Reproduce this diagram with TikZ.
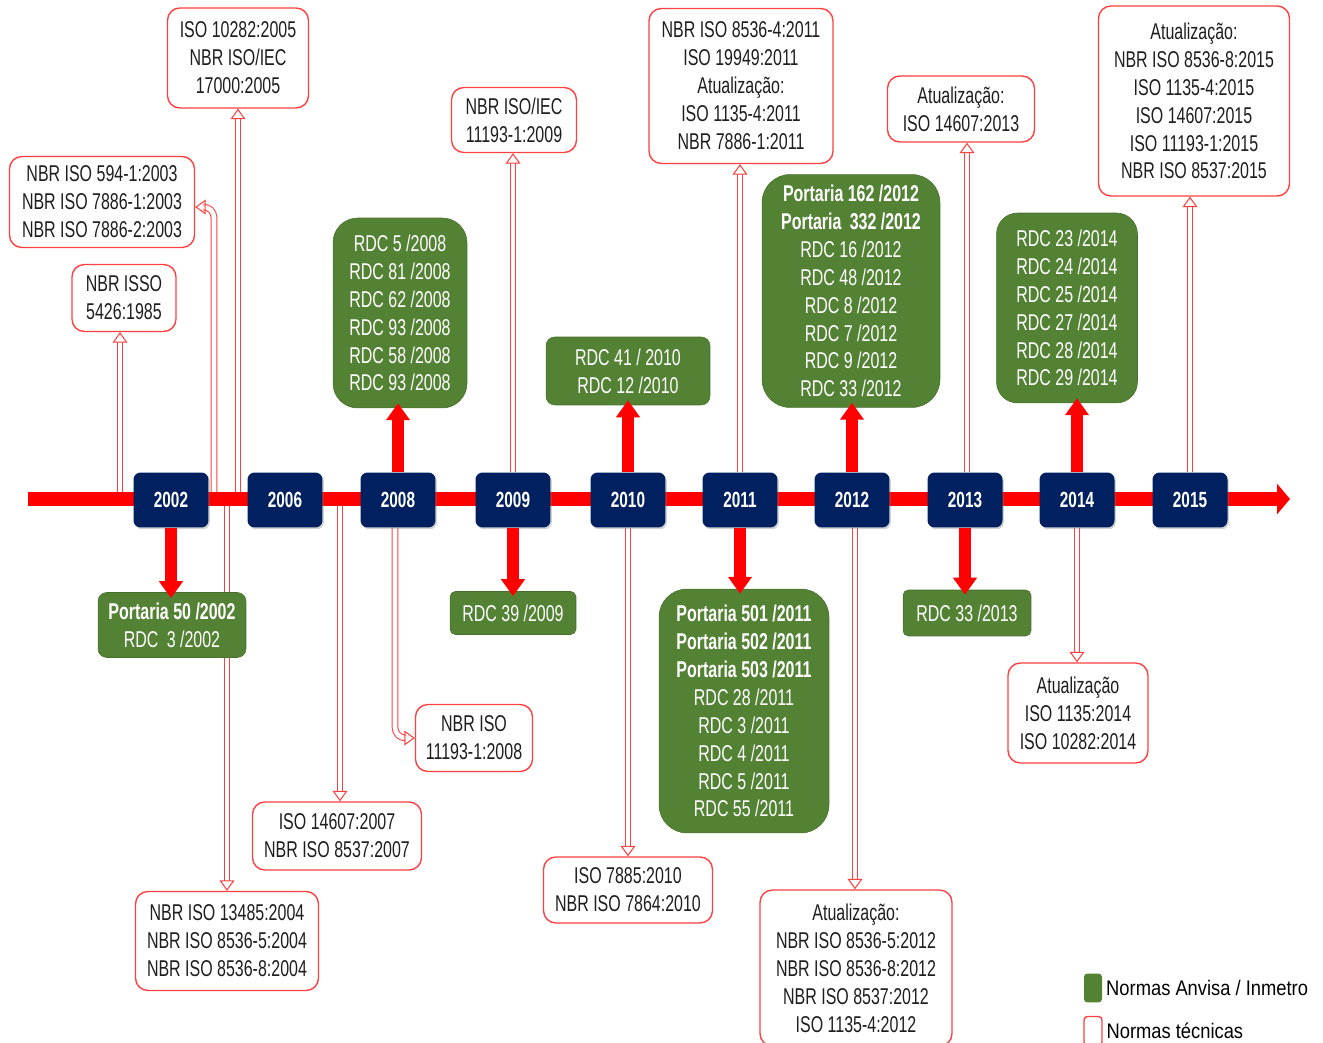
\documentclass[tikz,border=0pt]{standalone}
\usepackage{fontspec}
\setmainfont{Liberation Sans}[FakeStretch=0.7]
\newfontfamily\legfont{Liberation Sans}[FakeStretch=0.87]
\usetikzlibrary{arrows.meta,positioning,backgrounds,shadows}
\definecolor{lineRed}{HTML}{FF0000}
\definecolor{normRed}{HTML}{FF4040}
\definecolor{yearBlue}{HTML}{002060}
\definecolor{anvGreen}{HTML}{548235}
\definecolor{ink}{HTML}{1E1E1E}
\newcommand\boxfont{\fontsize{13}{15.9}\selectfont}
\tikzset{
  norma/.style={draw=normRed,line width=.8pt,fill=white,rounded corners=7pt,align=center,inner sep=2pt,font=\boxfont,text=ink},
  anvisa/.style={fill=anvGreen,draw=anvGreen!85!black,line width=.3pt,rounded corners=5pt,align=center,inner sep=2pt,font=\boxfont,text=white},
  yearbox/.style={fill=yearBlue,rounded corners=4pt,minimum width=1.5cm,minimum height=1.1cm,inner sep=1pt,text=white,
    font=\fontsize{12.5}{14}\selectfont\bfseries,drop shadow={shadow xshift=.8pt,shadow yshift=-1pt,opacity=.35}},
  tline/.style={line width=7.9pt,draw=lineRed,-{Triangle[width=.6cm,length=.26cm]}},
  bigarr/.style={line width=6.8pt,draw=lineRed,-{Triangle[width=.46cm,length=.34cm]}},
  thinarr/.style={draw=normRed,line width=.6pt,double=white,double distance=2.6pt,-{Triangle[open,width=8.5pt,length=6pt]}},
  legtext/.style={font=\legfont\fontsize{12}{14}\selectfont,inner sep=1pt,text=black}
}
\begin{document}
\begin{tikzpicture}[x=0.02cm,y=-0.02cm]
\useasboundingbox (0,0) rectangle (1323,1043);
% years on the time line
\node[yearbox] (y2002) at (171,500) {2002};
\node[yearbox] (y2006) at (285,500) {2006};
\node[yearbox] (y2008) at (398,500) {2008};
\node[yearbox] (y2009) at (513,500) {2009};
\node[yearbox] (y2010) at (628,500) {2010};
\node[yearbox] (y2011) at (740,500) {2011};
\node[yearbox] (y2012) at (852,500) {2012};
\node[yearbox] (y2013) at (965,500) {2013};
\node[yearbox] (y2014) at (1077,500) {2014};
\node[yearbox] (y2015) at (1190,500) {2015};
% normas tecnicas
\node[norma,minimum width=2.82cm,minimum height=2cm] (n10282) at (238,58) {ISO 10282:2005\\NBR ISO/IEC\\17000:2005};
\node[norma,minimum width=3.7cm,minimum height=1.82cm] (n594) at (102,202) {NBR ISO 594-1:2003\\NBR ISO 7886-1:2003\\NBR ISO 7886-2:2003};
\node[norma,minimum width=2.08cm,minimum height=1.34cm] (n5426) at (124,298) {NBR ISSO\\5426:1985};
\node[norma,minimum width=2.5cm,minimum height=1.3cm] (n11193b) at (514,120) {NBR ISO/IEC\\11193-1:2009};
\node[norma,minimum width=3.68cm,minimum height=3.1cm] (n8536) at (741,86) {NBR ISO 8536-4:2011\\ISO 19949:2011\\Atualização:\\ISO 1135-4:2011\\NBR 7886-1:2011};
\node[norma,minimum width=2.94cm,minimum height=1.32cm] (n14607b) at (961,109) {Atualização:\\ISO 14607:2013};
\node[norma,minimum width=3.82cm,minimum height=3.8cm] (n2015) at (1194,101) {Atualização:\\NBR ISO 8536-8:2015\\ISO 1135-4:2015\\ISO 14607:2015\\ISO 11193-1:2015\\NBR ISO 8537:2015};
\node[norma,minimum width=2.34cm,minimum height=1.34cm] (n11193a) at (474,738) {NBR ISO\\11193-1:2008};
\node[norma,minimum width=3.38cm,minimum height=1.36cm] (n14607a) at (337,836) {ISO 14607:2007\\NBR ISO 8537:2007};
\node[norma,minimum width=3.66cm,minimum height=1.98cm] (n13485) at (227,941) {NBR ISO 13485:2004\\NBR ISO 8536-5:2004\\NBR ISO 8536-8:2004};
\node[norma,minimum width=3.38cm,minimum height=1.32cm] (n7885) at (628,890) {ISO 7885:2010\\NBR ISO 7864:2010};
\node[norma,minimum width=3.84cm,minimum height=3.12cm] (n8536b) at (856,968) {Atualização:\\NBR ISO 8536-5:2012\\NBR ISO 8536-8:2012\\NBR ISO 8537:2012\\ISO 1135-4:2012};
\node[norma,minimum width=2.8cm,minimum height=2cm] (n1135) at (1078,713) {Atualização\\ISO 1135:2014\\ISO 10282:2014};
% normas Anvisa / Inmetro
\node[anvisa,minimum width=2.96cm,minimum height=1.3cm] (g2002) at (172,625) {\textbf{Portaria 50 /2002}\\RDC\, 3 /2002};
\node[anvisa,minimum width=2.68cm,minimum height=3.8cm,rounded corners=14pt] (g2008) at (400,313) {RDC 5 /2008\\RDC 81 /2008\\RDC 62 /2008\\RDC 93 /2008\\RDC 58 /2008\\RDC 93 /2008};
\node[anvisa,minimum width=2.52cm,minimum height=.86cm,rounded corners=3pt] (g2009) at (513,613) {RDC 39 /2009};
\node[anvisa,minimum width=3.28cm,minimum height=1.36cm] (g2010) at (628,371) {RDC 41 / 2010\\RDC 12 /2010};
\node[anvisa,minimum width=3.4cm,minimum height=4.88cm,rounded corners=16pt] (g2011) at (744,711) {\textbf{Portaria 501 /2011}\\\textbf{Portaria 502 /2011}\\\textbf{Portaria 503 /2011}\\RDC 28 /2011\\RDC 3 /2011\\RDC 4 /2011\\RDC 5 /2011\\RDC 55 /2011};
\node[anvisa,minimum width=3.56cm,minimum height=4.66cm,rounded corners=16pt] (g2012) at (851,291) {\textbf{Portaria 162 /2012}\\\textbf{Portaria\, 332 /2012}\\RDC 16 /2012\\RDC 48 /2012\\RDC 8 /2012\\RDC 7 /2012\\RDC 9 /2012\\RDC 33 /2012};
\node[anvisa,minimum width=2.56cm,minimum height=.92cm,rounded corners=3pt] (g2013) at (967,613) {RDC 33 /2013};
\node[anvisa,minimum width=2.82cm,minimum height=3.8cm,rounded corners=12pt] (g2014) at (1067,308) {RDC 23 /2014\\RDC 24 /2014\\RDC 25 /2014\\RDC 27 /2014\\RDC 28 /2014\\RDC 29 /2014};
% time line and links to the normas tecnicas
\coordinate (tstart) at (28,499);
\coordinate (tend) at (1290,499);
\coordinate (c5426) at (120,499);
\coordinate (c594) at (214,499);
\coordinate (c10282) at (238,499);
\coordinate (c13485) at (227,499);
\coordinate (c14607a) at (340,499);
\begin{scope}[on background layer]
\draw[thinarr] (c5426) -- (c5426 |- n5426.south);
\draw[thinarr,rounded corners=6pt] (c594) |- ([yshift=-.1cm]n594.east);
\draw[thinarr] (c10282) -- (c10282 |- n10282.south);
\draw[thinarr] (c13485) -- (c13485 |- n13485.north);
\draw[thinarr] (c14607a) -- (c14607a |- n14607a.north);
\draw[thinarr,rounded corners=6pt] ([xshift=-.06cm]y2008.south) |- (n11193a.west);
\draw[thinarr] (y2009.north) -- (y2009.north |- n11193b.south);
\draw[thinarr] (y2010.south) -- (y2010.south |- n7885.north);
\draw[thinarr] (y2011.north) -- (y2011.north |- n8536.south);
\draw[thinarr] ([xshift=.06cm]y2012.south) -- ([xshift=.06cm]y2012.south |- n8536b.north);
\draw[thinarr] ([xshift=.04cm]y2013.north) -- ([xshift=.04cm]y2013.north |- n14607b.south);
\draw[thinarr] (y2014.south) -- (y2014.south |- n1135.north);
\draw[thinarr] (y2015.north) -- (y2015.north |- n2015.south);
\draw[tline] (tstart) -- (tend);
\end{scope}
% links to the normas Anvisa / Inmetro
\draw[bigarr] (y2002.south) -- ([yshift=-.12cm]y2002.south |- g2002.north);
\draw[bigarr] (y2008.north) -- ([yshift=.1cm]y2008.north |- g2008.south);
\draw[bigarr] (y2009.south) -- ([yshift=-.1cm]y2009.south |- g2009.north);
\draw[bigarr] (y2010.north) -- ([yshift=.1cm]y2010.north |- g2010.south);
\draw[bigarr] (y2011.south) -- ([yshift=-.1cm]y2011.south |- g2011.north);
\draw[bigarr] (y2012.north) -- ([yshift=.1cm]y2012.north |- g2012.south);
\draw[bigarr] (y2013.south) -- ([yshift=-.1cm]y2013.south |- g2013.north);
\draw[bigarr] (y2014.north) -- ([yshift=.1cm]y2014.north |- g2014.south);
% legend
\node[fill=anvGreen,rounded corners=2pt,minimum width=.36cm,minimum height=.58cm,inner sep=0pt] (kA) at (1093,988) {};
\node[legtext,right=1pt of kA] (tA) {Normas Anvisa / Inmetro};
\node[draw=normRed,line width=.8pt,rounded corners=2pt,minimum width=.36cm,minimum height=.58cm,inner sep=0pt] (kB) at (1093,1031) {};
\node[legtext,right=1pt of kB] (tB) {Normas técnicas};
\end{tikzpicture}
\end{document}
